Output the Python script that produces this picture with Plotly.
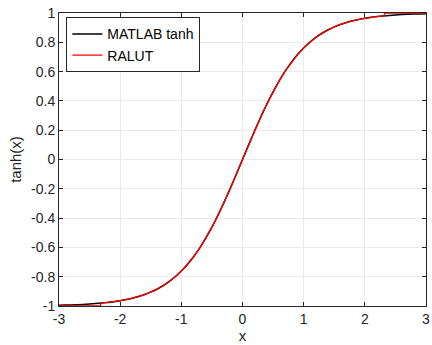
import plotly.graph_objects as go

x_vals = [-3.0, -2.9, -2.8, -2.7, -2.6, -2.5, -2.4, -2.3, -2.2, -2.1, -2.0,
          -1.9, -1.8, -1.7, -1.6, -1.5, -1.4, -1.3, -1.2, -1.1, -1.0,
          -0.9, -0.8, -0.7, -0.6, -0.5, -0.4, -0.3, -0.2, -0.1, 0.0,
          0.1, 0.2, 0.3, 0.4, 0.5, 0.6, 0.7, 0.8, 0.9, 1.0,
          1.1, 1.2, 1.3, 1.4, 1.5, 1.6, 1.7, 1.8, 1.9, 2.0,
          2.1, 2.2, 2.3, 2.4, 2.5, 2.6, 2.7, 2.8, 2.9, 3.0]
tanh_vals = [-0.9951, -0.9940, -0.9926, -0.9910, -0.9890, -0.9866, -0.9837, -0.9801, -0.9757, -0.9705, -0.9640,
             -0.9562, -0.9468, -0.9354, -0.9217, -0.9051, -0.8854, -0.8617, -0.8337, -0.8005, -0.7616,
             -0.7163, -0.6640, -0.6044, -0.5370, -0.4621, -0.3799, -0.2913, -0.1974, -0.0997, 0.0,
             0.0997, 0.1974, 0.2913, 0.3799, 0.4621, 0.5370, 0.6044, 0.6640, 0.7163, 0.7616,
             0.8005, 0.8337, 0.8617, 0.8854, 0.9051, 0.9217, 0.9354, 0.9468, 0.9562, 0.9640,
             0.9705, 0.9757, 0.9801, 0.9837, 0.9866, 0.9890, 0.9910, 0.9926, 0.9940, 0.9951]

ralut_x = [-3.0, -2.32, -2.32, -2.3, -2.2, -2.1, -2.0,
           -1.9, -1.8, -1.7, -1.6, -1.5, -1.4, -1.3, -1.2, -1.1, -1.0,
           -0.9, -0.8, -0.7, -0.6, -0.5, -0.4, -0.3, -0.2, -0.1, 0.0,
           0.1, 0.2, 0.3, 0.4, 0.5, 0.6, 0.7, 0.8, 0.9, 1.0,
           1.1, 1.2, 1.3, 1.4, 1.5, 1.6, 1.7, 1.8, 1.9, 2.0,
           2.1, 2.2, 2.3, 2.32, 2.32, 3.0]
ralut_y = [-1.0, -1.0, -0.9809, -0.9801, -0.9757, -0.9705, -0.9640,
           -0.9562, -0.9468, -0.9354, -0.9217, -0.9051, -0.8854, -0.8617, -0.8337, -0.8005, -0.7616,
           -0.7163, -0.6640, -0.6044, -0.5370, -0.4621, -0.3799, -0.2913, -0.1974, -0.0997, 0.0,
           0.0997, 0.1974, 0.2913, 0.3799, 0.4621, 0.5370, 0.6044, 0.6640, 0.7163, 0.7616,
           0.8005, 0.8337, 0.8617, 0.8854, 0.9051, 0.9217, 0.9354, 0.9468, 0.9562, 0.9640,
           0.9705, 0.9757, 0.9801, 0.9809, 1.0, 1.0]

x_ticks = [-3, -2, -1, 0, 1, 2, 3]
y_ticks = [-1, -0.8, -0.6, -0.4, -0.2, 0, 0.2, 0.4, 0.6, 0.8, 1]
y_tick_text = ["-1", "-0.8", "-0.6", "-0.4", "-0.2", "0", "0.2", "0.4", "0.6", "0.8", "1"]

fig = go.Figure()
fig.add_trace(go.Scatter(x=x_vals, y=tanh_vals, mode="lines", name="MATLAB tanh",
                         line=dict(color="black", width=1.5), line_shape="spline"))
fig.add_trace(go.Scatter(x=ralut_x, y=ralut_y, mode="lines", name="RALUT",
                         line=dict(color="red", width=1.3)))

axis_common = dict(
    showgrid=True, gridcolor="#ebebeb", gridwidth=1,
    showline=True, linecolor="#262626", linewidth=1, mirror="ticks",
    ticks="inside", ticklen=4, tickcolor="#262626",
    zeroline=False, ticklabeloverflow="allow",
    tickfont=dict(family="Liberation Sans, Arial, sans-serif", size=14, color="#262626"),
)

fig.update_layout(
    width=432, height=345,
    margin=dict(l=59, r=2, t=13, b=39),
    paper_bgcolor="white", plot_bgcolor="white",
    font=dict(family="Liberation Sans, Arial, sans-serif", size=14, color="#262626"),
    xaxis=dict(range=[-3, 3], tickvals=x_ticks, ticktext=[str(v) for v in x_ticks],
               title=dict(text="x", font=dict(size=15), standoff=3), **axis_common),
    yaxis=dict(range=[-1, 1], tickvals=y_ticks, ticktext=y_tick_text,
               title=dict(text="tanh(x)", font=dict(size=15), standoff=5), **axis_common),
    legend=dict(x=0.02, y=0.985, xanchor="left", yanchor="top",
                bgcolor="white", bordercolor="#262626", borderwidth=1,
                font=dict(size=14, color="black"), tracegroupgap=0,
                itemwidth=30),
    showlegend=True,
)

fig.write_html("out.html")
